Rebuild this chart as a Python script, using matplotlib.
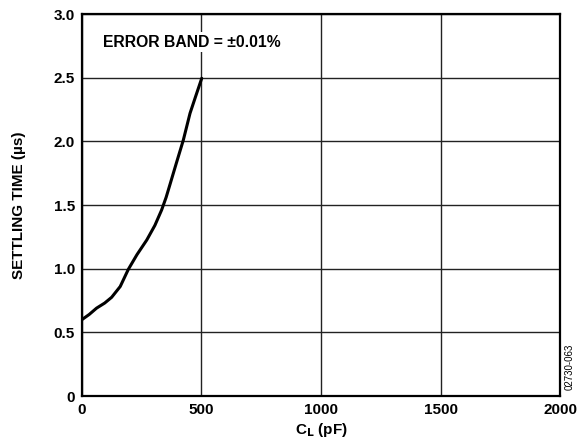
import numpy as np
import matplotlib
matplotlib.use('Agg')
import matplotlib.pyplot as plt

plt.rcParams['font.family'] = ['Liberation Sans', 'DejaVu Sans']

# settling time vs load capacitance
cl_pf = [0, 30, 61, 95, 124, 160, 194, 230, 271, 305, 333, 352, 368, 395, 424, 452, 475, 501]
t_settle = [0.60, 0.64, 0.69, 0.73, 0.775, 0.86, 0.995, 1.11, 1.225, 1.34, 1.46, 1.56, 1.66, 1.83, 2.01, 2.22, 2.35, 2.495]

x_ticks = [0, 500, 1000, 1500, 2000]
y_ticks = [0, 0.5, 1.0, 1.5, 2.0, 2.5, 3.0]
y_tick_labels = ['0', '0.5', '1.0', '1.5', '2.0', '2.5', '3.0']

fig = plt.figure(figsize=(5.81, 4.46), dpi=100)
ax = fig.add_axes([0.1411, 0.1121, 0.8228, 0.8565])

ax.plot(cl_pf, t_settle, color='black', lw=2.2, solid_capstyle='round', zorder=3)

ax.set_xlim(0, 2000)
ax.set_ylim(0, 3.0)
ax.set_xticks(x_ticks)
ax.set_yticks(y_ticks)
ax.set_yticklabels(y_tick_labels)
ax.tick_params(length=0, pad=5, labelsize=11)
for lab in ax.get_xticklabels() + ax.get_yticklabels():
    lab.set_fontweight('bold')

ax.grid(True, color='#222222', lw=1.0)
ax.set_axisbelow(True)
for s in ax.spines.values():
    s.set_linewidth(1.6)

ax.text(88, 2.78, 'ERROR BAND = ±0.01%', fontsize=11.3, fontweight='bold',
        va='center', ha='left', zorder=4,
        bbox=dict(facecolor='white', edgecolor='none', pad=2))

ax.set_ylabel('SETTLING TIME (µs)', fontsize=11, fontweight='bold', labelpad=20)
ax.set_xlabel(r'C$_\mathbf{L}$ (pF)', fontsize=11, fontweight='bold', labelpad=3)

fig.text(0.981, 0.177, '02730-063', rotation=90, fontsize=7,
         ha='center', va='center')

fig.savefig('out.png', dpi=100)
